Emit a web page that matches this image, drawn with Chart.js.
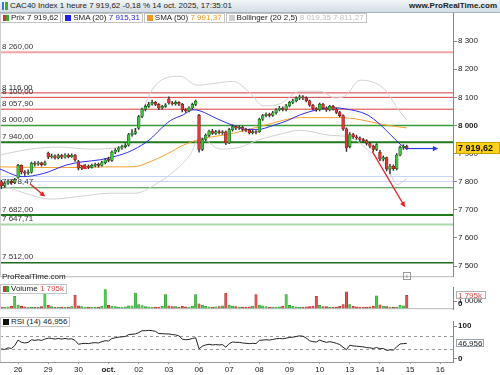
<!DOCTYPE html>
<html>
<head>
<meta charset="utf-8">
<script src="https://cdn.jsdelivr.net/npm/chart.js@4.4.1/dist/chart.umd.min.js"></script>
<style>
body{margin:0;width:500px;height:375px;background:#fff;font-family:"Liberation Sans",Arial,sans-serif;overflow:hidden;position:relative;color:#222}
canvas{position:absolute;left:0}
#title{position:absolute;left:0;top:0;width:500px;height:12px;background:linear-gradient(#f2f6f8,#d3dde4);border-bottom:1px solid #a9b5be;font-size:8px;line-height:12px;z-index:3}
#title .ico{position:absolute;left:2px;top:2px;width:6px;height:8px;background:linear-gradient(90deg,#3a7ad8 33%,#fff 33%,#fff 50%,#3ab03a 50%)}
#title .t{position:absolute;left:10px;top:0}
#title .w{position:absolute;right:3px;top:0;font-weight:bold}
#legend{position:absolute;left:0;top:13px;display:flex;gap:1px;z-index:3}
.lg{position:relative;height:8px;border:1px solid #c4c4c4;background:#fff;font-size:8px;line-height:8px;white-space:nowrap;padding-left:10px;padding-right:2px}
.lg .sq{position:absolute;left:2px;top:1px;width:6px;height:6px}
.sub{position:absolute;left:0;height:8px;border:1px solid #c4c4c4;background:#fff;font-size:8px;line-height:8px;white-space:nowrap;padding-left:10px;padding-right:2px;z-index:3}
.sub .sq{position:absolute;left:2px;top:1px;width:6px;height:6px}
#prt{position:absolute;left:2px;top:272px;font-size:8px;z-index:3}
#info{position:absolute;left:403px;top:272px;width:6px;height:6px;border:1px solid #999;font-size:6px;line-height:6px;text-align:center;color:#666;z-index:3}
</style>
</head>
<body>
<div id="title"><span class="ico"></span><span class="t">CAC40 Index 1 heure 7 919,62 -0,18 % 14 oct. 2025, 17:35:01</span><span class="w">www.ProRealTime.com</span></div>
<div id="legend">
<div class="lg"><span class="sq" style="background:linear-gradient(90deg,#e03030 50%,#30b030 50%)"></span>Prix 7 919,62</div>
<div class="lg"><span class="sq" style="background:#2020f0"></span>SMA (20) <span style="color:#2020f0">7 915,31</span></div>
<div class="lg"><span class="sq" style="background:#f7941d"></span>SMA (50) <span style="color:#f7941d">7 991,37</span></div>
<div class="lg"><span class="sq" style="background:#cfcfcf"></span>Bollinger (20 2,5) <span style="color:#c0c0c0">8 019,35 7 811,27</span></div>
</div>
<div id="prt">ProRealTime.com</div>
<div id="info">i</div>
<div class="sub" style="top:284px"><span class="sq" style="background:linear-gradient(90deg,#e03030 50%,#30b030 50%)"></span>Volume <span style="color:#e04848">1 795k</span></div>
<div class="sub" style="top:317px"><span class="sq" style="background:#111"></span>RSI (14) 46,956</div>

<canvas id="main" width="500" height="282" style="top:0"></canvas>
<canvas id="vol" width="500" height="33" style="top:282px"></canvas>
<canvas id="rsi" width="500" height="59" style="top:316px"></canvas>

<script>
// day labels on the time axis (one label at the start of each trading day, 9 hourly bars per day)
var dayLabels = ['26','29','30','oct.','02','03','06','07','08','09','10','13','14','15','16'];
var firstDayBar = 5, barsPerDay = 9;

// hourly candles
var opens = [7800,7786,7795,7802,7797,
  7815,7858,7835,7830,7834,7866,7862,7867,7861,
  7902,7888,7892,7885,7893,7887,7895,7889,7894,
  7872,7848,7852,7856,7851,7858,7861,7858,7868,
  7880,7876,7905,7912,7920,7925,7930,7968,7972,
  7990,8032,8058,8068,8076,8082,8075,8062,8068,
  8095,8080,8077,8082,8076,8055,8052,8062,8075,
  8036,7915,7950,7965,7980,7972,7978,7974,7977,
  7938,7985,7996,7990,7994,7986,7983,7974,7978,
  7978,8022,8035,8040,8036,8045,8056,8062,8057,
  8070,8082,8088,8097,8102,8098,8088,8072,8060,
  8056,8076,8062,8055,8068,8058,8046,8035,7988,
  7925,7968,7960,7956,7950,7946,7936,7926,7915,
  7905,7880,7886,7845,7855,7846,7895,7922,7926];
var highs = [7805,7800,7808,7806,7812,
  7862,7860,7840,7842,7870,7872,7872,7870,7873,
  7905,7898,7896,7898,7897,7900,7899,7899,7897,
  7876,7858,7862,7860,7863,7866,7866,7873,7882,
  7888,7910,7918,7925,7930,7936,7972,7985,7990,
  8036,8062,8073,8082,8090,8086,8078,8072,8078,
  8102,8086,8088,8085,8079,8060,8066,8080,8090,
  8040,7955,7970,7984,7986,7983,7984,7982,7980,
  7990,8002,8000,8000,7998,7990,7987,7984,7982,
  8026,8040,8045,8044,8050,8060,8068,8066,8075,
  8086,8094,8102,8108,8106,8102,8090,8075,8064,
  8080,8079,8066,8072,8072,8062,8050,8038,7992,
  7975,7972,7966,7960,7954,7950,7940,7930,7936,
  7912,7892,7888,7862,7860,7900,7928,7932,7930];
var lows = [7775,7780,7790,7790,7793,
  7812,7828,7822,7826,7830,7855,7858,7855,7858,
  7882,7884,7880,7881,7882,7884,7885,7886,7872,
  7842,7843,7848,7846,7848,7853,7852,7855,7863,
  7870,7872,7900,7906,7915,7920,7926,7962,7968,
  7986,8028,8052,8064,8072,8070,8056,8058,8064,
  8076,8072,8072,8070,8048,8046,8048,8058,8070,
  7905,7910,7946,7960,7968,7968,7970,7968,7932,
  7935,7980,7985,7986,7980,7978,7970,7970,7970,
  7975,8018,8030,8030,8032,8040,8052,8052,8052,
  8066,8078,8084,8092,8092,8084,8068,8055,8050,
  8052,8058,8050,8052,8054,8042,8030,7982,7908,
  7920,7954,7950,7944,7940,7930,7920,7908,7910,
  7875,7874,7838,7828,7840,7842,7892,7915,7915];
var closes = [7786,7795,7802,7797,7808,
  7858,7835,7830,7834,7866,7862,7867,7861,7868,
  7888,7892,7885,7893,7887,7895,7889,7894,7878,
  7848,7852,7856,7851,7858,7861,7858,7868,7878,
  7876,7905,7912,7920,7925,7930,7968,7972,7978,
  8032,8058,8068,8076,8082,8075,8062,8068,8073,
  8080,8077,8082,8076,8055,8052,8062,8075,8086,
  7915,7950,7965,7980,7972,7978,7974,7977,7938,
  7985,7996,7990,7994,7986,7983,7974,7978,7975,
  8022,8035,8040,8036,8045,8056,8062,8057,8070,
  8082,8088,8097,8102,8098,8088,8072,8060,8056,
  8076,8062,8055,8068,8058,8046,8035,7988,7920,
  7968,7960,7956,7950,7946,7936,7926,7915,7932,
  7880,7886,7845,7855,7846,7895,7922,7926,7919.62];

// volume per bar, in thousands
var volumes = [180,150,220,300,1640,
  450,300,220,180,160,150,170,250,2450,
  420,250,200,180,200,160,180,280,1820,
  380,260,200,180,160,170,200,300,2550,
  430,320,250,200,180,220,350,380,2100,
  520,400,260,220,200,180,200,300,1900,
  350,250,280,200,300,220,200,330,1900,
  620,450,300,240,200,220,250,380,2100,
  480,330,260,200,180,200,220,320,1900,
  450,360,250,200,180,200,220,320,1900,
  420,300,240,200,200,220,260,330,1640,
  430,280,250,200,180,200,300,520,2270,
  520,300,220,200,180,200,220,330,1730,
  500,320,250,200,180,200,420,380,1795];

// RSI(14) per bar
var rsiValues = [30,28,33,31,40,
  57,50,48,50,58,56,58,56,60,
  63,62,60,62,60,62,60,61,56,
  44,46,47,46,48,49,48,52,55,
  54,62,64,66,67,68,74,75,76,
  80,86,86,87,86,84,77,77,76,
  76,74,73,70,60,58,59,62,64,
  30,38,42,44,42,43,42,43,35,
  46,51,50,50,48,47,46,47,46,
  56,57,58,57,59,61,62,61,63,
  65,66,68,70,69,63,55,52,51,
  57,53,50,52,50,47,43,35,27,
  41,39,38,37,36,34,33,31,34,
  30,31,25,27,26,36,45,46,46.956];

// indicator curves, read as [bar, value]
var sma20 = [[-0.4,7845],[6.2,7818],[12.5,7829],[19.6,7860],[24.4,7871],[29.5,7878],[35.4,7895],[39.3,7913],
  [44.4,7951],[47.4,7986],[50.4,8017],[54.3,8038],[57.2,8056],[59.3,8052],[64.4,8024],[69.2,8000],[73.4,7986],
  [76.6,7986],[81.1,8000],[85.3,8017],[89.2,8038],[94.3,8056],[99,8063],[102.6,8059],[109.2,8038],[113.1,8003],
  [116,7969],[119,7934],[121,7915.31]];
var sma50 = [[-0.4,7853],[17.5,7850],[32.5,7853],[39.3,7853],[44.4,7871],[49.5,7899],[54.3,7930],[59.3,7951],
  [69.2,7972],[79.3,8003],[89.2,8028],[94.3,8028],[101.1,8028],[107,8021],[114,8003],[121,7991.37]];
var bollUpper = [[-0.4,7895],[8.6,7916],[17.5,7923],[26.5,7916],[35.4,7923],[39.9,7976],[44.4,8115],[48.9,8168],
  [53.4,8175],[58.4,8143],[63.8,8150],[69.2,8157],[74.3,8115],[78.1,8070],[83.2,8077],[89.2,8122],[95.1,8122],
  [99.6,8098],[102.6,8105],[107.1,8161],[110.1,8157],[114.6,8126],[118.1,8063],[121,8019.35]];
var bollLower = [[-0.4,7790],[7.1,7759],[14.6,7738],[23.5,7748],[32.5,7759],[39.9,7759],[47.4,7801],[49.5,7818],
  [56.3,7895],[59.3,7958],[65.3,7916],[71.3,7923],[76.6,7948],[83.2,7969],[89.2,7983],[98.1,7965],[104.1,7958],
  [110.1,7906],[115.1,7853],[118.1,7790],[121,7811.27]];

// horizontal levels drawn on the price panel
var levelValues = [8260,8116,8100,8057.90,8000,7940,7778.47,7682,7647.71,7512];
var levelLabels = ['8 260,00','8 116,00','8 100,00','8 057,90','8 000,00','7 940,00','7 778,47','7 682,00','7 647,71','7 512,00'];
var levelColors = ['#f4a3a3','#e03a3a','#e03a3a','#e03a3a','#3a9a3a','#1f7a1f','#3a8f3a','#1f7a1f','#a9d9a9','#1f6a1f'];
var levelWidths = [2,1,1,1,1.5,2,1,2,2,1.5];
var blueLevels = [7820,7804];

// hand drawn arrows: [fromBar, fromPrice, toBar, toPrice]
var redArrows = [[8.6,7792,13.1,7747],[22.9,7862,25.6,7845],[110.7,7908,120.5,7709]];
var blueArrows = [[120.5,7918,130.4,7918]];

var priceTicks = [7500,7600,7700,7800,7900,8000,8100,8200,8300];
var volTicks = [1000];
var rsiTicks = [0,100];

var GREEN = '#3cc43c', GREEN_B = '#1c5a1c', RED = '#e53535', RED_B = '#7a1818';
var FONT = '"Liberation Sans", Arial, sans-serif';
var XMIN = -0.4, XMAX = 134.8;

function fmt(v) { return String(v).replace(/\B(?=(\d{3})+(?!\d))/g, ' '); }

var idx = closes.map(function(_, i){ return i; });
var up = idx.map(function(i){ return closes[i] >= opens[i]; });

function pts(a) { return a.map(function(p){ return {x: p[0], y: p[1]}; }); }

function arrow(ctx, x1, y1, x2, y2, color) {
  var ang = Math.atan2(y2 - y1, x2 - x1), h = 6;
  ctx.strokeStyle = color; ctx.fillStyle = color; ctx.lineWidth = 1.2;
  ctx.beginPath(); ctx.moveTo(x1, y1); ctx.lineTo(x2 - Math.cos(ang) * h * 0.8, y2 - Math.sin(ang) * h * 0.8); ctx.stroke();
  ctx.beginPath();
  ctx.moveTo(x2, y2);
  ctx.lineTo(x2 - h * Math.cos(ang - 0.45), y2 - h * Math.sin(ang - 0.45));
  ctx.lineTo(x2 - h * Math.cos(ang + 0.45), y2 - h * Math.sin(ang + 0.45));
  ctx.closePath(); ctx.fill();
}

function rightAxis(min, max, ticks, fontFn) {
  return {
    position: 'right', min: min, max: max,
    afterBuildTicks: function(s){ s.ticks = ticks.map(function(v){ return {value: v}; }); },
    afterFit: function(s){ s.width = 47; },
    grid: { drawOnChartArea: false, tickLength: 4, color: '#888' },
    border: { color: '#888' },
    ticks: { padding: 1, color: '#222', font: fontFn || { family: FONT, size: 8 },
      callback: function(v){ return fmt(v); } }
  };
}

var mainPlugin = {
  id: 'mainDecor',
  beforeDatasetsDraw: function(chart) {
    var ctx = chart.ctx, a = chart.chartArea, y = chart.scales.y;
    ctx.save();
    ctx.strokeStyle = '#c9d5f3'; ctx.lineWidth = 1;
    blueLevels.forEach(function(v){
      var py = Math.round(y.getPixelForValue(v)) + 0.5;
      ctx.beginPath(); ctx.moveTo(a.left, py); ctx.lineTo(a.right, py); ctx.stroke();
    });
    ctx.font = '8px ' + FONT; ctx.textBaseline = 'bottom'; ctx.fillStyle = '#333';
    levelValues.forEach(function(v, k){
      var py = y.getPixelForValue(v);
      ctx.strokeStyle = levelColors[k]; ctx.lineWidth = levelWidths[k];
      ctx.beginPath(); ctx.moveTo(a.left, py); ctx.lineTo(a.right, py); ctx.stroke();
      ctx.fillText(levelLabels[k], a.left + 2, py - 1.5);
    });
    ctx.strokeStyle = '#cfcfcf'; ctx.lineWidth = 1;
    ctx.beginPath(); ctx.moveTo(0.5, a.top); ctx.lineTo(0.5, a.bottom); ctx.stroke();
    ctx.strokeStyle = '#b8b8b8';
    ctx.beginPath(); ctx.moveTo(0, a.bottom + 0.5); ctx.lineTo(a.right, a.bottom + 0.5); ctx.stroke();
    ctx.restore();
  },
  afterDatasetsDraw: function(chart) {
    var ctx = chart.ctx, x = chart.scales.x, y = chart.scales.y;
    ctx.save();
    redArrows.forEach(function(r){
      arrow(ctx, x.getPixelForValue(r[0]), y.getPixelForValue(r[1]), x.getPixelForValue(r[2]), y.getPixelForValue(r[3]), '#e82020');
    });
    blueArrows.forEach(function(r){
      arrow(ctx, x.getPixelForValue(r[0]), y.getPixelForValue(r[1]), x.getPixelForValue(r[2]), y.getPixelForValue(r[3]), '#2a3ae8');
    });
    ctx.restore();
  },
  afterDraw: function(chart) {
    var ctx = chart.ctx, a = chart.chartArea, y = chart.scales.y;
    var last = closes[closes.length - 1];
    var py = Math.round(y.getPixelForValue(last));
    ctx.save();
    ctx.fillStyle = '#ffd21a'; ctx.fillRect(a.right + 3, py - 6, 44, 12);
    ctx.strokeStyle = '#c9a000'; ctx.lineWidth = 1; ctx.strokeRect(a.right + 3.5, py - 5.5, 43, 11);
    ctx.fillStyle = '#111'; ctx.font = 'bold 9px ' + FONT; ctx.textBaseline = 'middle';
    ctx.fillText('7 919,62', a.right + 5, py + 0.5);
    ctx.restore();
  }
};

new Chart(document.getElementById('main'), {
  type: 'bar',
  data: {
    datasets: [
      { data: idx.map(function(i){ return {x: i, y: [opens[i], closes[i]]}; }),
        backgroundColor: idx.map(function(i){ return up[i] ? GREEN : RED; }),
        borderColor: idx.map(function(i){ return up[i] ? GREEN_B : RED_B; }),
        borderWidth: 0.6, borderSkipped: false, barThickness: 2.8, minBarLength: 1, grouped: false, order: 0 },
      { data: idx.map(function(i){ return {x: i, y: [lows[i], highs[i]]}; }),
        backgroundColor: '#333', barThickness: 0.8, grouped: false, order: 1 },
      { type: 'line', data: pts(sma20), borderColor: '#3030ee', borderWidth: 1, pointRadius: 0, cubicInterpolationMode: 'monotone', order: 2 },
      { type: 'line', data: pts(sma50), borderColor: '#f7a030', borderWidth: 1, pointRadius: 0, cubicInterpolationMode: 'monotone', order: 3 },
      { type: 'line', data: pts(bollUpper), borderColor: '#d2d2d2', borderWidth: 1, pointRadius: 0, cubicInterpolationMode: 'monotone', order: 4 },
      { type: 'line', data: pts(bollLower), borderColor: '#d2d2d2', borderWidth: 1, pointRadius: 0, cubicInterpolationMode: 'monotone', order: 4 }
    ]
  },
  options: {
    responsive: false, animation: false, devicePixelRatio: 1,
    layout: { padding: { top: 13, bottom: 1, left: 0, right: 0 } },
    plugins: { legend: { display: false }, tooltip: { enabled: false } },
    scales: {
      x: { type: 'linear', min: XMIN, max: XMAX, offset: false, display: false },
      y: rightAxis(7464, 8400, priceTicks, function(c){
        return { family: FONT, size: 8, weight: c.tick && c.tick.value === 8000 ? 'bold' : 'normal' };
      })
    }
  },
  plugins: [mainPlugin]
});

var volPlugin = {
  id: 'volDecor',
  afterDraw: function(chart) {
    var ctx = chart.ctx, a = chart.chartArea, y = chart.scales.y;
    var last = volumes[volumes.length - 1];
    var py = Math.round(y.getPixelForValue(last));
    ctx.save();
    ctx.font = 'bold 8px ' + FONT; ctx.fillStyle = '#111'; ctx.textBaseline = 'middle';
    ctx.fillText('0', a.right + 5, a.bottom - 5);
    ctx.fillStyle = '#fff'; ctx.fillRect(a.right + 3, py - 4, 30, 8);
    ctx.strokeStyle = '#b0b0b0'; ctx.lineWidth = 1; ctx.strokeRect(a.right + 3.5, py - 3.5, 29, 7);
    ctx.fillStyle = '#e04848'; ctx.font = '8px ' + FONT;
    ctx.fillText(fmt(last) + 'k', a.right + 5, py + 0.5);
    ctx.strokeStyle = '#b8b8b8';
    ctx.beginPath(); ctx.moveTo(0, a.bottom - 0.5); ctx.lineTo(a.right, a.bottom - 0.5); ctx.stroke();
    ctx.strokeStyle = '#cfcfcf';
    ctx.beginPath(); ctx.moveTo(0.5, a.top); ctx.lineTo(0.5, a.bottom); ctx.stroke();
    ctx.restore();
  }
};

new Chart(document.getElementById('vol'), {
  type: 'bar',
  data: {
    datasets: [{
      data: idx.map(function(i){ return {x: i, y: volumes[i]}; }),
      backgroundColor: idx.map(function(i){ return up[i] ? '#4ccc4c' : '#e25050'; }),
      borderColor: idx.map(function(i){ return up[i] ? '#2a8a2a' : '#a02828'; }),
      borderWidth: 0.5, borderSkipped: false, barThickness: 2.4
    }]
  },
  options: {
    responsive: false, animation: false, devicePixelRatio: 1,
    layout: { padding: { top: 0, bottom: 0, left: 0, right: 0 } },
    plugins: { legend: { display: false }, tooltip: { enabled: false } },
    scales: {
      x: { type: 'linear', min: XMIN, max: XMAX, offset: false, display: false },
      y: (function(){
        var s = rightAxis(-90, 2800, volTicks);
        s.ticks.callback = function(v){ return fmt(v) + 'k'; };
        return s;
      })()
    }
  },
  plugins: [volPlugin]
});

var rsiPlugin = {
  id: 'rsiDecor',
  beforeDatasetsDraw: function(chart) {
    var ctx = chart.ctx, a = chart.chartArea, y = chart.scales.y;
    ctx.save();
    ctx.strokeStyle = '#9a9a9a'; ctx.lineWidth = 1; ctx.setLineDash([3, 3]);
    [70, 30].forEach(function(v){
      var py = Math.round(y.getPixelForValue(v)) + 0.5;
      ctx.beginPath(); ctx.moveTo(a.left, py); ctx.lineTo(a.right, py); ctx.stroke();
    });
    ctx.setLineDash([]);
    ctx.strokeStyle = '#cfcfcf';
    ctx.beginPath(); ctx.moveTo(0.5, a.top); ctx.lineTo(0.5, a.bottom); ctx.stroke();
    ctx.restore();
  },
  afterDraw: function(chart) {
    var ctx = chart.ctx, a = chart.chartArea, y = chart.scales.y;
    var last = rsiValues[rsiValues.length - 1];
    var py = Math.round(y.getPixelForValue(last));
    ctx.save();
    ctx.fillStyle = '#fff'; ctx.fillRect(a.right + 3, py - 4, 28, 8);
    ctx.strokeStyle = '#9aa4b0'; ctx.lineWidth = 1; ctx.strokeRect(a.right + 3.5, py - 3.5, 27, 7);
    ctx.fillStyle = '#222'; ctx.font = '8px ' + FONT; ctx.textBaseline = 'middle';
    ctx.fillText('46,956', a.right + 5, py + 0.5);
    ctx.restore();
  }
};

new Chart(document.getElementById('rsi'), {
  type: 'line',
  data: {
    datasets: [{
      data: idx.map(function(i){ return {x: i, y: rsiValues[i]}; }),
      borderColor: '#222', borderWidth: 1, pointRadius: 0, tension: 0
    }]
  },
  options: {
    responsive: false, animation: false, devicePixelRatio: 1,
    layout: { padding: { top: 0, bottom: 0, left: 0, right: 0 } },
    plugins: { legend: { display: false }, tooltip: { enabled: false } },
    scales: {
      x: {
        type: 'linear', min: XMIN, max: XMAX, offset: false,
        afterBuildTicks: function(s){
          s.ticks = dayLabels.map(function(_, k){ return {value: firstDayBar + k * barsPerDay}; });
        },
        afterFit: function(s){ s.height = 13; },
        grid: { drawOnChartArea: false, tickLength: 2, color: '#999' },
        border: { color: '#999' },
        ticks: {
          padding: 1, color: '#222', maxRotation: 0, autoSkip: false,
          callback: function(v){ return dayLabels[Math.round((v - firstDayBar) / barsPerDay)]; },
          font: function(c){
            var lab = c.tick ? dayLabels[Math.round((c.tick.value - firstDayBar) / barsPerDay)] : '';
            return { family: FONT, size: 8, weight: lab === 'oct.' ? 'bold' : 'normal' };
          }
        }
      },
      y: rightAxis(-10.8, 113.5, rsiTicks, { family: FONT, size: 8, weight: 'bold' })
    }
  },
  plugins: [rsiPlugin]
});
</script>
</body>
</html>
